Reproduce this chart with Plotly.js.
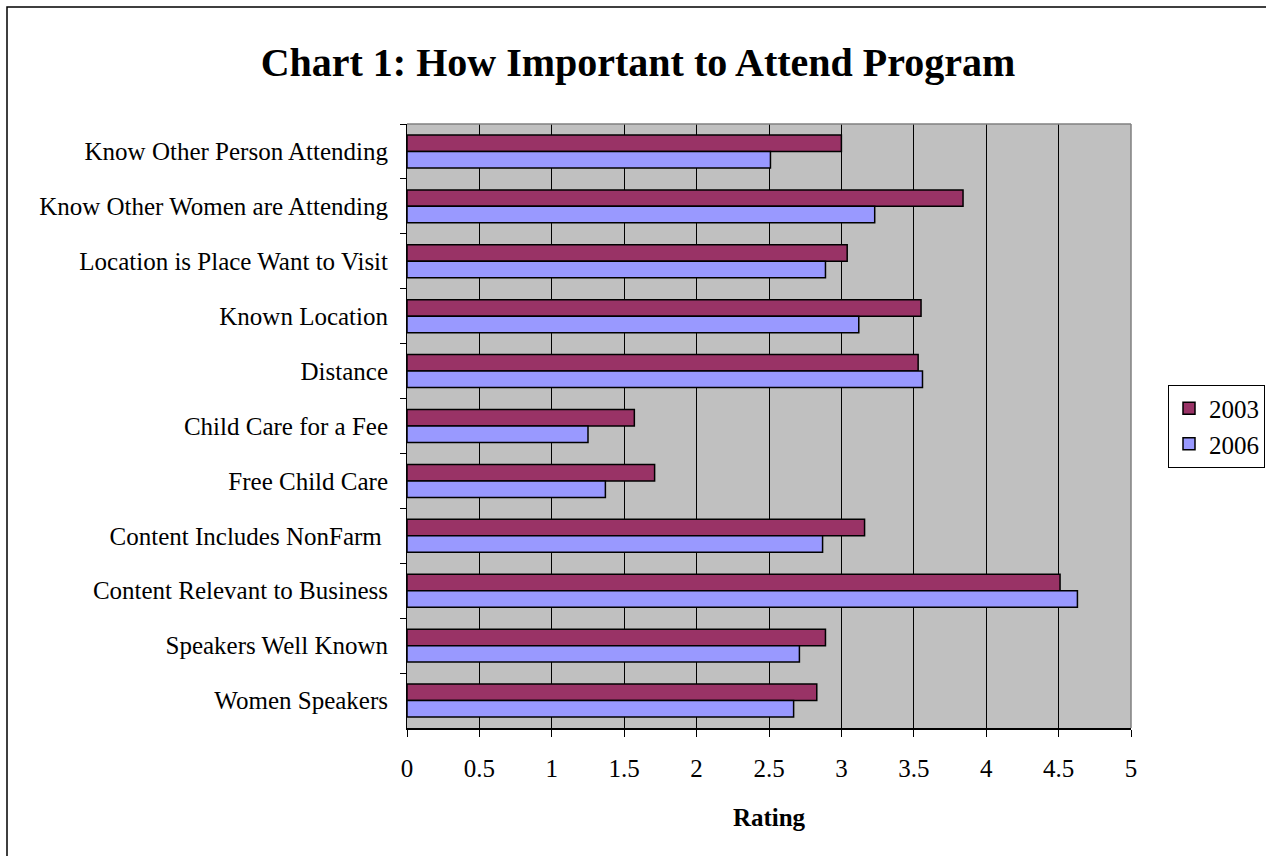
<!DOCTYPE html>
<html>
<head>
<meta charset="utf-8">
<script src="https://cdn.plot.ly/plotly-3.0.1.min.js"></script>
<style>html,body{margin:0;padding:0;background:#fff;}#chart{width:1266px;height:856px;}</style>
</head>
<body>
<div id="chart"></div>
<script>
const categories = [
  "Know Other Person Attending",
  "Know Other Women are Attending",
  "Location is Place Want to Visit",
  "Known Location",
  "Distance",
  "Child Care for a Fee",
  "Free Child Care",
  "Content Includes NonFarm ",
  "Content Relevant to Business",
  "Speakers Well Known",
  "Women Speakers"
];
const values2003 = [3.00, 3.84, 3.04, 3.55, 3.53, 1.57, 1.71, 3.16, 4.51, 2.89, 2.83];
const values2006 = [2.51, 3.23, 2.89, 3.12, 3.56, 1.25, 1.37, 2.87, 4.63, 2.71, 2.67];
const xTicks = [0, 0.5, 1, 1.5, 2, 2.5, 3, 3.5, 4, 4.5, 5];
const xTickText = ["0", "0.5", "1", "1.5", "2", "2.5", "3", "3.5", "4", "4.5", "5"];

const serif = "Liberation Serif, Times New Roman, serif";

const traces = [
  {type: "bar", orientation: "h", name: "2003", y: categories, x: values2003,
   marker: {color: "#993366", line: {color: "#000", width: 1.5}}},
  {type: "bar", orientation: "h", name: "2006", y: categories, x: values2006,
   marker: {color: "#9999FF", line: {color: "#000", width: 1.5}}}
];

const layout = {
  width: 1266, height: 856,
  paper_bgcolor: "#fff", plot_bgcolor: "#C0C0C0",
  margin: {l: 407, r: 135, t: 124, b: 128, autoexpand: false},
  barmode: "group", bargap: 0.4, bargroupgap: 0,
  font: {family: serif, color: "#000", size: 25},
  title: {text: "<b>Chart 1: How Important to Attend Program</b>",
          font: {family: serif, size: 40, color: "#000"},
          x: 638/1266, xref: "container", xanchor: "center", y: 1 - 62/856, yanchor: "middle"},
  xaxis: {range: [0, 5], tickvals: xTicks, ticktext: xTickText,
          showgrid: true, gridcolor: "#000", gridwidth: 1,
          showline: true, linecolor: "#000", linewidth: 1.5,
          ticks: "outside", ticklen: 7, tickcolor: "#000", ticklabelstandoff: 10,
          tickfont: {family: serif, size: 25}, zeroline: false,
          title: {text: "<b>Rating</b>", font: {family: serif, size: 25}, standoff: 28},
          fixedrange: true},
  yaxis: {autorange: "reversed", type: "category",
          showline: true, linecolor: "#000", linewidth: 1.5,
          ticks: "outside", ticklen: 6, tickcolor: "#000", tickson: "boundaries",
          tickfont: {family: serif, size: 25}, showgrid: false, ticksuffix: "  ",
          fixedrange: true},
  legend: {x: 1168/1266, xref: "container", xanchor: "left", y: 0.5, yanchor: "middle",
           bordercolor: "#000", borderwidth: 1, bgcolor: "#fff",
           font: {family: serif, size: 25}, traceorder: "normal",
           itemwidth: 30},
  shapes: [
    {type: "line", xref: "paper", yref: "paper", x0: 0, x1: 1, y0: 1, y1: 1,
     line: {color: "#808080", width: 1.5}},
    {type: "line", xref: "paper", yref: "paper", x0: 1, x1: 1, y0: 0, y1: 1,
     line: {color: "#808080", width: 1.5}},
    {type: "rect", xref: "paper", yref: "paper",
     x0: (7 - 407) / 724, x1: (1275 - 407) / 724,
     y0: (728 - 870) / 604, y1: (728 - 7) / 604,
     line: {color: "#000", width: 1.5}, fillcolor: "rgba(0,0,0,0)", layer: "below"}
  ]
};

Plotly.newPlot("chart", traces, layout, {displayModeBar: false, staticPlot: true});
</script>
</body>
</html>
